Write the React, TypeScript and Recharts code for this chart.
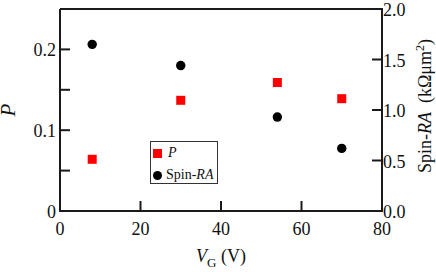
import React from "react";
import { ScatterChart, Scatter, XAxis, YAxis, ReferenceLine } from "recharts";

const vg = [8, 30, 54, 70];
const pValues = [0.064, 0.137, 0.159, 0.139];
const spinRA = [1.65, 1.44, 0.93, 0.62];

const xTicks = [0, 20, 40, 60, 80];
const xLabels = ["0", "20", "40", "60", "80"];
const leftTicks = [0, 0.05, 0.1, 0.15, 0.2];
const leftLabels = ["0", "", "0.1", "", "0.2"];
const rightTicks = [0, 0.5, 1, 1.5, 2];
const rightLabels = ["0.0", "0.5", "1.0", "1.5", "2.0"];

const pData = vg.map((x, i) => ({ x, y: pValues[i] }));
const raData = vg.map((x, i) => ({ x, y: spinRA[i] }));

const FONT = '"Liberation Serif", "Times New Roman", serif';
const AXIS = "#1a1a1a";
const RED = "#ff0000";
const SW = 2;

const LeftTick = (props: any) => {
  const x = Number(props.x);
  const y = Number(props.y);
  return (
    <g>
      <path d={`M${x - 1},${y}H${x + 10}`} stroke={AXIS} strokeWidth={SW} fill="none" />
      <text x={x - 4} y={y + 7} textAnchor="end" fontSize={18} fontFamily={FONT} fill="#111">
        {leftLabels[props.index]}
      </text>
    </g>
  );
};

const RightTick = (props: any) => {
  const x = Number(props.x);
  const y = Number(props.y);
  return (
    <g>
      <path d={`M${x + 1},${y}H${x - 10}`} stroke={AXIS} strokeWidth={SW} fill="none" />
      <text x={x + 1} y={y + 7} textAnchor="start" fontSize={18} fontFamily={FONT} fill="#111">
        {rightLabels[props.index]}
      </text>
    </g>
  );
};

const BottomTick = (props: any) => {
  const x = Number(props.x);
  const y = Number(props.y);
  return (
    <g>
      <path d={`M${x},${y + 1}V${y - 10}`} stroke={AXIS} strokeWidth={SW} fill="none" />
      <text x={x} y={y + 24} textAnchor="middle" fontSize={18} fontFamily={FONT} fill="#111">
        {xLabels[props.index]}
      </text>
    </g>
  );
};

const SquareShape = (props: any) => (
  <rect x={Number(props.cx) - 4.5} y={Number(props.cy) - 4.5} width={9} height={9} fill={RED} />
);
const CircleShape = (props: any) => (
  <circle cx={props.cx} cy={props.cy} r={4.7} fill="#000" />
);

export default function App() {
  return (
    <div style={{ position: "absolute", left: 0, top: 0, width: 436, height: 272, background: "#fff" }}>
      <ScatterChart width={436} height={272} margin={{ top: 9, right: 0, bottom: 0, left: 0 }}>
        <XAxis
          dataKey="x"
          type="number"
          domain={[0, 80]}
          ticks={xTicks}
          tickSize={0}
          tickMargin={0}
          tickLine={false}
          tick={<BottomTick />}
          axisLine={{ stroke: AXIS, strokeWidth: SW }}
          height={61}
        />
        <YAxis
          yAxisId="left"
          dataKey="y"
          type="number"
          domain={[0, 0.25]}
          ticks={leftTicks}
          tickSize={0}
          tickMargin={0}
          tickLine={false}
          tick={<LeftTick />}
          axisLine={{ stroke: AXIS, strokeWidth: SW }}
          width={60}
        />
        <YAxis
          yAxisId="right"
          orientation="right"
          dataKey="y"
          type="number"
          domain={[0, 2]}
          ticks={rightTicks}
          tickSize={0}
          tickMargin={0}
          tickLine={false}
          tick={<RightTick />}
          axisLine={{ stroke: AXIS, strokeWidth: SW }}
          width={54}
        />
        <ReferenceLine yAxisId="left" y={0.25} stroke={AXIS} strokeWidth={SW} ifOverflow="visible" />
        <Scatter
          name="P"
          yAxisId="left"
          data={pData}
          shape={<SquareShape />}
          isAnimationActive={false}
        />
        <Scatter
          name="Spin-RA"
          yAxisId="right"
          data={raData}
          shape={<CircleShape />}
          isAnimationActive={false}
        />
      </ScatterChart>
      <div
        style={{
          position: "absolute",
          left: 0,
          top: 110,
          width: 0,
          height: 0,
          fontFamily: FONT,
          color: "#111",
        }}
      >
        <div
          style={{
            position: "absolute",
            left: -12,
            top: -12,
            width: 40,
            height: 24,
            lineHeight: "24px",
            textAlign: "center",
            fontSize: 21,
            fontStyle: "italic",
            transform: "rotate(-90deg)",
          }}
        >
          P
        </div>
      </div>
      <div
        style={{
          position: "absolute",
          left: 425,
          top: 106,
          width: 0,
          height: 0,
          fontFamily: FONT,
          color: "#111",
        }}
      >
        <div
          style={{
            position: "absolute",
            left: -90,
            top: -11,
            width: 180,
            height: 22,
            lineHeight: "22px",
            textAlign: "center",
            fontSize: 18,
            whiteSpace: "nowrap",
            transform: "rotate(-90deg)",
          }}
        >
          Spin-<i>RA</i>{"\u00a0\u00a0(k\u03a9\u03bcm"}
          <sup style={{ fontSize: 12, lineHeight: 0 }}>2</sup>)
        </div>
      </div>
      <div
        style={{
          position: "absolute",
          left: 171,
          top: 245,
          width: 100,
          lineHeight: "22px",
          textAlign: "center",
          fontFamily: FONT,
          fontSize: 18,
          color: "#111",
          whiteSpace: "nowrap",
        }}
      >
        <i>V</i>
        <sub style={{ fontSize: 13, lineHeight: 0 }}>G</sub> (V)
      </div>
      <div
        style={{
          position: "absolute",
          left: 150,
          top: 141,
          width: 68,
          height: 43,
          border: "1px solid #333",
          background: "#fff",
          fontFamily: FONT,
          fontSize: 14,
          color: "#111",
          boxSizing: "border-box",
        }}
      >
        <div style={{ position: "absolute", left: 2, top: 7, width: 9, height: 9, background: RED }} />
        <div style={{ position: "absolute", left: 17, top: 2, lineHeight: "18px", fontStyle: "italic" }}>P</div>
        <div style={{ position: "absolute", left: 2, top: 29, width: 9, height: 9, borderRadius: "50%", background: "#000" }} />
        <div style={{ position: "absolute", left: 15, top: 24, lineHeight: "18px", whiteSpace: "nowrap" }}>
          Spin-<i>RA</i>
        </div>
      </div>
    </div>
  );
}
